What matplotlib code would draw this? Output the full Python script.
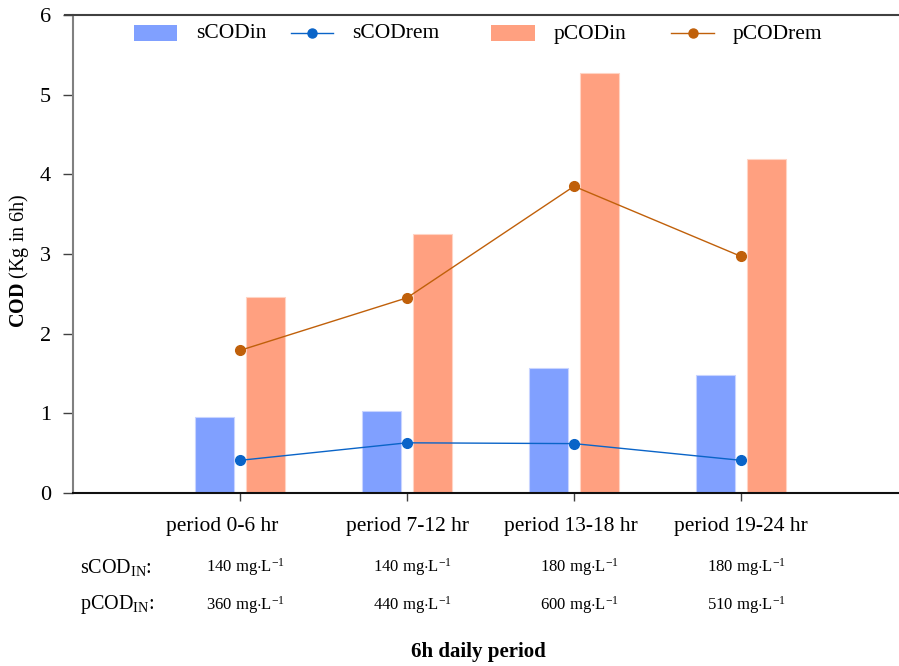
import matplotlib
matplotlib.use("Agg")
import matplotlib.pyplot as plt
import numpy as np
from matplotlib.lines import Line2D
from matplotlib.patches import Rectangle

plt.rcParams["font.family"] = ["Liberation Serif", "DejaVu Serif"]
plt.rcParams["mathtext.fontset"] = "custom"
plt.rcParams["mathtext.rm"] = "Liberation Serif"
plt.rcParams["mathtext.it"] = "Liberation Serif:italic"
plt.rcParams["mathtext.bf"] = "Liberation Serif:bold"

periods = ["period 0-6 hr", "period 7-12 hr", "period 13-18 hr", "period 19-24 hr"]
scod_in = [0.96, 1.03, 1.57, 1.48]
pcod_in = [2.46, 3.25, 5.27, 4.19]
scod_rem = [0.41, 0.63, 0.62, 0.41]
pcod_rem = [1.79, 2.45, 3.85, 2.97]
scod_in_conc = [140, 140, 180, 180]
pcod_in_conc = [360, 440, 600, 510]
series = ["sCODin", "sCODrem", "pCODin", "pCODrem"]

BLUE_BAR = "#80a0ff"
ORANGE_BAR = "#ffa080"
BLUE_LINE = "#0a64c8"
ORANGE_LINE = "#c0600a"

W, H = 899, 666


def fx(px):
    return px / W


def fy(py):
    return 1 - py / H


fig = plt.figure(figsize=(W / 100, H / 100), dpi=100)
ax = fig.add_axes([fx(73), fy(493), 1 - fx(73), (493 - 15) / H])

x = np.arange(1, len(periods) + 1)
off, w = 0.152, 0.235
ax.bar(x - off, scod_in, w, color=BLUE_BAR, edgecolor="#c8d4ff", linewidth=0.8)
ax.bar(x + off, pcod_in, w, color=ORANGE_BAR, edgecolor="#ffd4c4", linewidth=0.8)
ax.plot(x, scod_rem, color=BLUE_LINE, lw=1.0, marker="o", ms=7)
ax.plot(x, pcod_rem, color=ORANGE_LINE, lw=1.0, marker="o", ms=7)

ax.set_xlim(0, 4.946)
ax.set_ylim(0, 6)
ax.set_xticks(x)
ax.set_xticklabels([])
ax.set_yticks(range(7))
ax.tick_params(axis="y", direction="out", length=7, width=1, color="#404040",
               labelsize=16, pad=9)
ax.tick_params(axis="x", direction="out", length=6, width=1, color="#404040")
for s in ("top", "right"):
    ax.spines[s].set_visible(False)
ax.spines["left"].set_color("#808080")
ax.spines["left"].set_linewidth(1.5)
ax.spines["bottom"].set_color("#101010")
ax.spines["bottom"].set_linewidth(1.5)

ax.set_ylabel(r"$\mathbf{COD}$ (Kg in 6h)", fontsize=14.5)
ax.yaxis.set_label_coords(-0.051, 0.485)

# line along the top of the frame
fig.add_artist(Line2D([fx(65), 1], [fy(15)] * 2, color="#404040", lw=1.5))

# legend row, laid out by hand
leg_y = 33
for (x0, x1), name, kind, col in zip(
        [(134, 177), (291, 333), (491, 535), (671, 714)],
        series, ["bar", "line", "bar", "line"],
        [BLUE_BAR, BLUE_LINE, ORANGE_BAR, ORANGE_LINE]):
    if kind == "bar":
        fig.add_artist(Rectangle((fx(x0), fy(leg_y + 8)), fx(x1 - x0), 16 / H,
                                 facecolor=col, edgecolor="none",
                                 transform=fig.transFigure))
    else:
        fig.add_artist(Line2D([fx(x0), fx(x1)], [fy(leg_y)] * 2, color=col, lw=1.0))
        fig.add_artist(Line2D([fx((x0 + x1) / 2)], [fy(leg_y)], color=col,
                              marker="o", ms=6.5, lw=0))
    fig.text(fx(x1 + 19), fy(leg_y + 1), name, fontsize=15.5, ha="left", va="center")

# category labels and inflow concentrations under the axis
label_dx = [-13, 0, -2, 0]
for xi, lab, dx, sc, pc in zip(x, periods, label_dx, scod_in_conc, pcod_in_conc):
    ax.annotate(lab, (xi, 0), xytext=(dx, -24), textcoords="offset points",
                ha="center", va="center", fontsize=15.5, annotation_clip=False)
    ax.annotate(rf"{sc} mg$\cdot$L$^{{\mathrm{{-1}}}}$", (xi, 0), xytext=(4, -53),
                textcoords="offset points", ha="center", va="center",
                fontsize=12, annotation_clip=False)
    ax.annotate(rf"{pc} mg$\cdot$L$^{{\mathrm{{-1}}}}$", (xi, 0), xytext=(4, -81),
                textcoords="offset points", ha="center", va="center",
                fontsize=12, annotation_clip=False)

fig.text(fx(80), fy(567), r"sCOD$_{\mathrm{IN}}$:", fontsize=14.5,
         ha="left", va="center")
fig.text(fx(80), fy(605), r"pCOD$_{\mathrm{IN}}$:", fontsize=14.5,
         ha="left", va="center")
fig.text(fx(478), fy(652), "6h daily period", fontsize=15,
         fontweight="bold", ha="center", va="center")

fig.savefig("out.png", dpi=100)
